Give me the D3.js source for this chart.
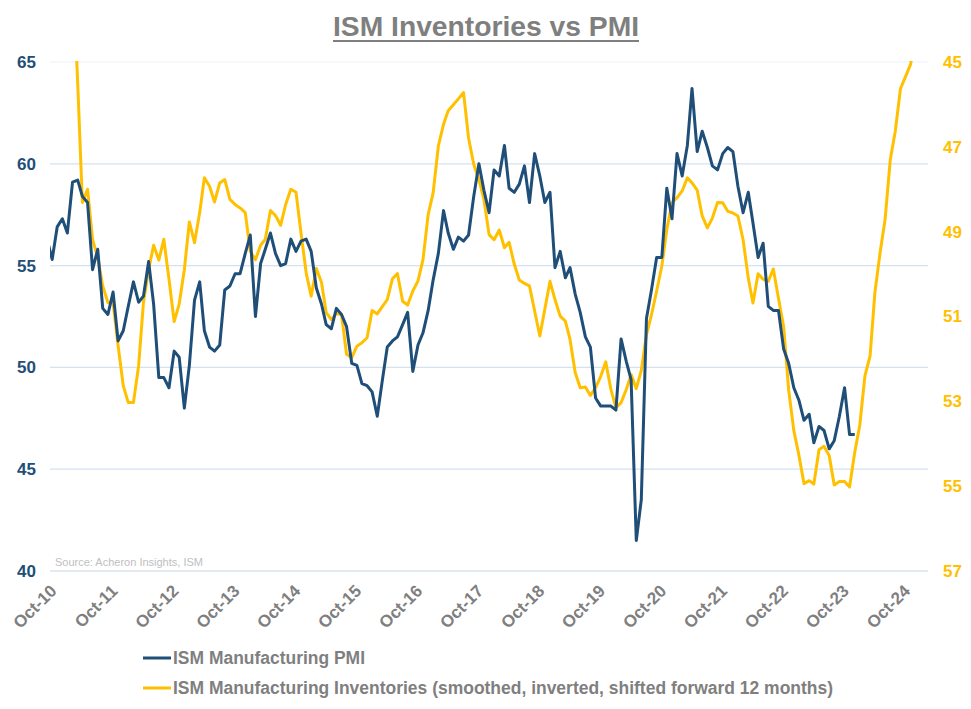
<!DOCTYPE html>
<html><head><meta charset="utf-8">
<script src="https://cdn.jsdelivr.net/npm/d3@7"></script>
<style>body{margin:0;background:#fff} svg{display:block}</style>
</head><body>
<script>
// ISM Manufacturing PMI, monthly from Aug-2010 to Nov-2023
const pmiStart = [2010, 7];
const pmi = [
56.3,55.3,56.9,57.3,56.6,59.1,59.2,58.4,58.1,54.8,55.8,52.9,52.6,53.7,51.3,51.8,53.0,54.2,53.2,53.5,
55.2,53.1,49.5,49.5,49.0,50.8,50.5,48.0,50.1,53.3,54.2,51.8,51.0,50.8,51.1,53.8,54.0,54.6,54.6,55.6,
56.5,52.5,55.1,55.8,56.6,55.6,55.0,55.1,56.3,55.7,56.2,56.3,55.7,53.9,53.1,52.1,51.9,52.9,52.6,52.0,
50.2,50.1,49.2,49.1,48.8,47.6,49.4,51.0,51.3,51.5,52.1,52.7,49.8,51.1,51.7,52.8,54.3,55.6,57.7,56.6,
55.8,56.4,56.2,56.5,58.4,60.0,58.7,57.6,59.7,59.4,60.9,58.8,58.6,59.0,59.9,58.1,60.5,59.4,58.1,58.6,
54.9,55.7,54.4,54.9,53.6,52.7,51.5,51.0,48.5,48.1,48.1,48.1,47.9,51.4,50.3,49.4,41.5,43.5,52.4,53.8,
55.4,55.4,58.8,57.3,60.5,59.4,60.9,63.7,60.6,61.6,60.8,59.9,59.7,60.5,60.8,60.6,58.9,57.6,58.6,57.1,
55.4,56.1,53.0,52.8,52.8,50.9,50.2,49.0,48.4,47.4,47.7,46.3,47.1,46.9,46.0,46.4,47.6,49.0,46.7,46.7
];
// ISM Manufacturing Inventories (smoothed, inverted, shifted fwd 12m), monthly from Jan-2011 to Nov-2024
const invStart = [2011, 0];
const inv = [
42.7,45.5,48.31,48.0,49.18,49.61,50.28,50.67,50.67,51.69,52.63,53.03,53.03,52.16,50.67,49.89,49.32,49.67,49.18,50.12,
51.12,50.71,49.89,48.77,49.26,48.55,47.73,47.93,48.3,47.85,47.77,48.24,48.36,48.44,48.55,49.46,49.66,49.32,49.18,48.5,
48.62,48.85,48.36,48.0,48.07,49.03,49.97,50.52,49.87,50.2,50.91,51.07,50.93,50.96,51.89,51.97,51.7,51.62,51.5,50.86,
50.94,50.76,50.6,50.11,49.99,50.64,50.73,50.4,50.16,49.66,48.6,48.08,46.98,46.47,46.15,46.01,45.87,45.72,46.79,47.41,
47.77,48.24,49.07,49.19,48.96,49.38,49.25,49.77,50.14,50.22,50.28,50.87,51.46,50.83,50.17,50.6,50.99,51.11,51.54,52.32,
52.68,52.66,52.86,52.68,52.41,52.07,52.72,53.15,53.03,52.72,52.37,52.7,52.27,51.43,50.96,50.4,49.81,48.95,48.32,48.2,
48.04,47.73,47.85,48.02,48.63,48.91,48.68,48.31,48.32,48.52,48.56,48.63,49.19,50.09,50.68,49.99,50.12,50.17,49.88,50.57,
51.24,52.73,53.69,54.26,54.94,54.87,54.95,54.14,54.06,54.28,54.97,54.89,54.89,55.02,54.2,53.57,52.4,51.93,50.43,49.49,
48.71,47.3,46.63,45.63,45.34,45.05,44.3
];
const leftTicks = [40,45,50,55,60,65];
const rightTicks = [45,47,49,51,53,55,57];
const xTickLabels = ["Oct-10","Oct-11","Oct-12","Oct-13","Oct-14","Oct-15","Oct-16","Oct-17","Oct-18","Oct-19","Oct-20","Oct-21","Oct-22","Oct-23","Oct-24"];
const titleText = "ISM Inventories vs PMI";
const sourceText = "Source: Acheron Insights, ISM";
const seriesNames = ["ISM Manufacturing PMI","ISM Manufacturing Inventories (smoothed, inverted, shifted forward 12 months)"];

const W = 971, H = 709;
const L = 50, R = 928, T = 62, B = 571;
const blue = "#1f4e79", gold = "#ffc000", gray = "#7f7f7f";

const svg = d3.select("body").append("svg").attr("width", W).attr("height", H);

const x = d3.scaleTime().domain([new Date(2010,7,19), new Date(2025,0,13)]).range([L, R]);
const yL = d3.scaleLinear().domain([40,65]).range([B, T]);
const yR = d3.scaleLinear().domain([45,57]).range([T, B]);

// gridlines
svg.append("g").selectAll("line").data(leftTicks).join("line")
  .attr("x1", L).attr("x2", R)
  .attr("y1", d => yL(d)).attr("y2", d => yL(d))
  .attr("stroke", d => d === 65 ? "#edf2f8" : (d === 40 ? "#c8d6e6" : "#d3e2f1"))
  .attr("stroke-width", 1.2);

// left axis
const gl = svg.append("g").attr("transform", `translate(${L},0)`)
  .call(d3.axisLeft(yL).tickValues(leftTicks).tickSize(0).tickPadding(14));
gl.select(".domain").remove();
gl.selectAll("text").attr("fill", blue).attr("font-family", "Liberation Sans, Arial, sans-serif")
  .attr("font-weight", "bold").attr("font-size", 17);

// right axis
const gr = svg.append("g").attr("transform", `translate(${R},0)`)
  .call(d3.axisRight(yR).tickValues(rightTicks).tickSize(0).tickPadding(15));
gr.select(".domain").remove();
gr.selectAll("text").attr("fill", gold).attr("font-family", "Liberation Sans, Arial, sans-serif")
  .attr("font-weight", "bold").attr("font-size", 17);

// x axis labels
const xTicks = xTickLabels.map((s, i) => new Date(2010 + i, 9, 1));
const gx = svg.append("g").attr("transform", `translate(0,${B})`)
  .call(d3.axisBottom(x).tickValues(xTicks).tickSize(0).tickFormat((d, i) => xTickLabels[i]));
gx.select(".domain").remove();
gx.selectAll("text")
  .attr("fill", gray).attr("font-family", "Liberation Sans, Arial, sans-serif")
  .attr("font-weight", "bold").attr("font-size", 17)
  .attr("text-anchor", "end").attr("dy", null).attr("y", null)
  .attr("transform", "translate(0,21) rotate(-45)");

// source
svg.append("text").attr("x", 55).attr("y", 566).text(sourceText)
  .attr("fill", "#c0c0c0").attr("font-family", "Liberation Sans, Arial, sans-serif").attr("font-size", 11);

// clip
svg.append("clipPath").attr("id", "plot").append("rect")
  .attr("x", L).attr("y", T - 1).attr("width", R - L).attr("height", B - T + 2);

const pmiData = pmi.map((v, i) => ({d: new Date(pmiStart[0], pmiStart[1] + i, 1), v}));
const invData = inv.map((v, i) => ({d: new Date(invStart[0], invStart[1] + i, 1), v}));

const plot = svg.append("g").attr("clip-path", "url(#plot)");
plot.append("path").datum(invData)
  .attr("d", d3.line().x(d => x(d.d)).y(d => yR(d.v)))
  .attr("fill", "none").attr("stroke", gold).attr("stroke-width", 3).attr("stroke-linejoin", "round");
plot.append("path").datum(pmiData)
  .attr("d", d3.line().x(d => x(d.d)).y(d => yL(d.v)))
  .attr("fill", "none").attr("stroke", blue).attr("stroke-width", 3).attr("stroke-linejoin", "round");

// title
svg.append("text").attr("x", 486).attr("y", 36).attr("text-anchor", "middle")
  .attr("fill", gray).attr("font-family", "Liberation Sans Narrow, Liberation Sans, Arial, sans-serif")
  .attr("font-weight", "bold").attr("font-size", 28)
  .attr("textLength", 306).attr("lengthAdjust", "spacingAndGlyphs").text(titleText);
svg.append("line").attr("x1", 333).attr("x2", 639).attr("y1", 41).attr("y2", 41)
  .attr("stroke", gray).attr("stroke-width", 2);

// legend
const legY = [658, 688];
const legLen = [192, 660];
const lg = svg.append("g");
seriesNames.forEach((name, i) => {
  lg.append("line").attr("x1", 143).attr("x2", 171).attr("y1", legY[i]).attr("y2", legY[i])
    .attr("stroke", i === 0 ? blue : gold).attr("stroke-width", 3);
  lg.append("text").attr("x", 173).attr("y", legY[i] + 6).text(name)
    .attr("fill", gray).attr("font-family", "Liberation Sans Narrow, Liberation Sans, Arial, sans-serif")
    .attr("font-weight", "bold").attr("font-size", 18)
    .attr("textLength", legLen[i]).attr("lengthAdjust", "spacingAndGlyphs");
});
</script>
</body></html>
